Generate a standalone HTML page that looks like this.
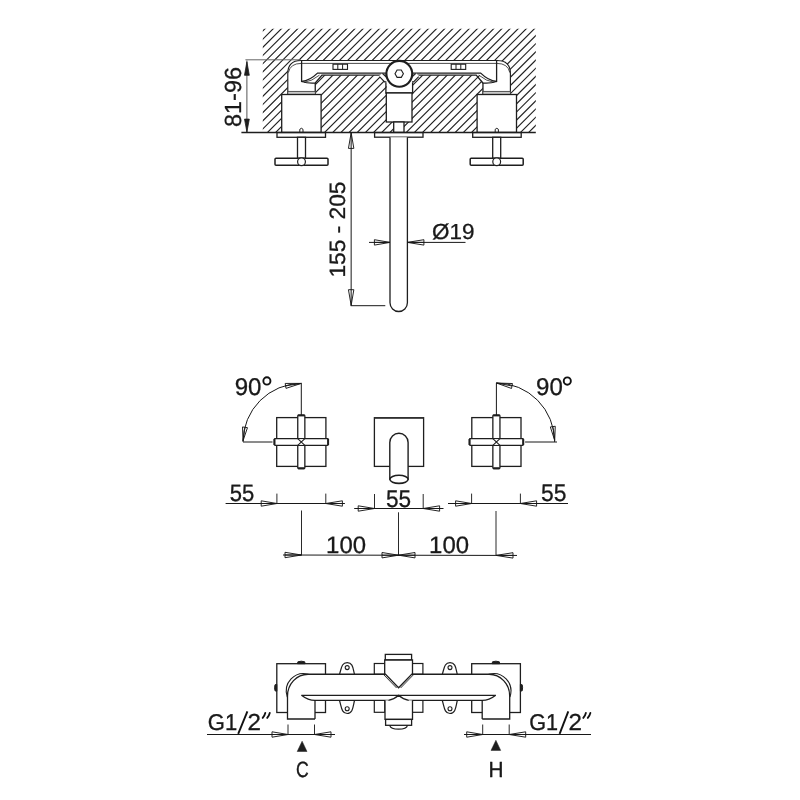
<!DOCTYPE html>
<html><head><meta charset="utf-8"><style>
html,body{margin:0;padding:0;background:#fff;width:800px;height:800px;overflow:hidden}
svg{display:block;will-change:transform}
text{font-family:"Liberation Sans",sans-serif;fill:#1a1a1a;text-rendering:geometricPrecision}
</style></head><body>
<svg width="800" height="800" viewBox="0 0 800 800">
<rect width="800" height="800" fill="#fff"/>
<clipPath id="hc"><rect x="262.8" y="28.7" width="272.99999999999994" height="103.8"/></clipPath>
<path clip-path="url(#hc)" d="M139.97,137.50L253.77,23.70M148.14,137.50L261.94,23.70M156.30,137.50L270.10,23.70M164.46,137.50L278.26,23.70M172.63,137.50L286.43,23.70M180.79,137.50L294.59,23.70M188.95,137.50L302.75,23.70M197.12,137.50L310.92,23.70M205.28,137.50L319.08,23.70M213.44,137.50L327.24,23.70M221.60,137.50L335.40,23.70M229.77,137.50L343.57,23.70M237.93,137.50L351.73,23.70M246.09,137.50L359.89,23.70M254.26,137.50L368.06,23.70M262.42,137.50L376.22,23.70M270.58,137.50L384.38,23.70M278.75,137.50L392.55,23.70M286.91,137.50L400.71,23.70M295.07,137.50L408.87,23.70M303.23,137.50L417.03,23.70M311.40,137.50L425.20,23.70M319.56,137.50L433.36,23.70M327.72,137.50L441.52,23.70M335.89,137.50L449.69,23.70M344.05,137.50L457.85,23.70M352.21,137.50L466.01,23.70M360.38,137.50L474.18,23.70M368.54,137.50L482.34,23.70M376.70,137.50L490.50,23.70M384.86,137.50L498.66,23.70M393.03,137.50L506.83,23.70M401.19,137.50L514.99,23.70M409.35,137.50L523.15,23.70M417.52,137.50L531.32,23.70M425.68,137.50L539.48,23.70M433.84,137.50L547.64,23.70M442.00,137.50L555.80,23.70M450.17,137.50L563.97,23.70M458.33,137.50L572.13,23.70M466.49,137.50L580.29,23.70M474.66,137.50L588.46,23.70M482.82,137.50L596.62,23.70M490.98,137.50L604.78,23.70M499.15,137.50L612.95,23.70M507.31,137.50L621.11,23.70M515.47,137.50L629.27,23.70M523.63,137.50L637.43,23.70M531.80,137.50L645.60,23.70" stroke="#222" stroke-width="1.15" fill="none"/>
<path d="M287.8,94.5 L287.8,73.6 Q287.8,60.6 300.9,60.6 L399.1,60.6 L399.1,75.3 L318.75,75.3 L315.3,83.4 L315.3,94.5 Z" fill="#fff" stroke="none" stroke-width="0" />
<path d="M510.40000000000003,94.5 L510.40000000000003,73.6 Q510.40000000000003,60.6 497.30000000000007,60.6 L399.1,60.6 L399.1,75.3 L479.45000000000005,75.3 L482.90000000000003,83.4 L482.90000000000003,94.5 Z" fill="#fff" stroke="none" stroke-width="0" />
<path d="M287.8,94.5 L287.8,73.6 Q287.8,60.5 300.9,60.5 L497.30000000000007,60.5 Q510.40000000000003,60.5 510.40000000000003,73.6 L510.40000000000003,94.5" fill="none" stroke="#1e1e1e" stroke-width="1.15" />
<path d="M288.4,72.5 Q290.3,63.4 301.25,63.4 L496.95000000000005,63.4 Q507.90000000000003,63.4 509.80000000000007,72.5" fill="none" stroke="#1e1e1e" stroke-width="0.8" />
<path d="M301.6,60.6 L301.6,81.5 Q308,83.6 315.25,83 L322,75.1 L399.1,75.1" fill="none" stroke="#1e1e1e" stroke-width="1.3" />
<path d="M301.6,81.5 Q310,80.5 317.5,73.1 L399.1,73.1" fill="none" stroke="#1e1e1e" stroke-width="1.3" />
<path d="M304,82.4 Q312,81.2 319.5,75.1" fill="none" stroke="#1e1e1e" stroke-width="0.8" />
<path d="M315.25,83 L315.25,94.5" fill="none" stroke="#1e1e1e" stroke-width="1.3" />
<rect x="287.8" y="91.4" width="27.50" height="3.10" rx="0" fill="#c8c8c8" stroke="#444" stroke-width="0.9" />
<rect x="281.7" y="94.5" width="39.40" height="38.00" rx="0" fill="#fff" stroke="#1e1e1e" stroke-width="1.3" />
<path d="M299.79999999999995,132.3 L299.79999999999995,129.3 Q301.4,127.2 303.0,129.3 L303.0,132.3" fill="none" stroke="#1e1e1e" stroke-width="1.0" />
<rect x="333" y="64.2" width="14.50" height="5.20" rx="0" fill="#fff" stroke="#1e1e1e" stroke-width="1.1" />
<line x1="337.8" y1="64.2" x2="337.8" y2="69.4" stroke="#1e1e1e" stroke-width="1.0"/>
<line x1="342.6" y1="64.2" x2="342.6" y2="69.4" stroke="#1e1e1e" stroke-width="1.0"/>
<rect x="277" y="132.5" width="48.50" height="4.80" rx="0" fill="#fff" stroke="#1e1e1e" stroke-width="1.3" />
<rect x="297.5" y="137.3" width="8.00" height="21.00" rx="0" fill="#fff" stroke="#1e1e1e" stroke-width="1.3" />
<rect x="275.0" y="158.2" width="53.00" height="7.00" rx="1" fill="#fff" stroke="#1e1e1e" stroke-width="1.5" />
<circle cx="301.5" cy="161.7" r="3.9" fill="#fff" stroke="#1e1e1e" stroke-width="1.2"/>
<path d="M379.0,76.0 L382.3,73.2 L388.3,78.9 L385.6,82.2 Z" fill="#fff" stroke="none" stroke-width="0" />
<path d="M379.5,76.6 L384.6,81.9 L386.6,81.9 M382.3,73.3 L387.6,78.3" fill="none" stroke="#1e1e1e" stroke-width="1.1" />
<path d="M496.6,60.6 L496.6,81.5 Q490.20000000000005,83.6 482.95000000000005,83 L476.20000000000005,75.1 L399.1,75.1" fill="none" stroke="#1e1e1e" stroke-width="1.3" />
<path d="M496.6,81.5 Q488.20000000000005,80.5 480.70000000000005,73.1 L399.1,73.1" fill="none" stroke="#1e1e1e" stroke-width="1.3" />
<path d="M494.20000000000005,82.4 Q486.20000000000005,81.2 478.70000000000005,75.1" fill="none" stroke="#1e1e1e" stroke-width="0.8" />
<path d="M482.95000000000005,83 L482.95000000000005,94.5" fill="none" stroke="#1e1e1e" stroke-width="1.3" />
<rect x="482.90000000000003" y="91.4" width="27.50" height="3.10" rx="0" fill="#c8c8c8" stroke="#444" stroke-width="0.9" />
<rect x="477.1" y="94.5" width="39.40" height="38.00" rx="0" fill="#fff" stroke="#1e1e1e" stroke-width="1.3" />
<path d="M495.20000000000005,132.3 L495.20000000000005,129.3 Q496.80000000000007,127.2 498.4000000000001,129.3 L498.4000000000001,132.3" fill="none" stroke="#1e1e1e" stroke-width="1.0" />
<rect x="451.20000000000005" y="64.2" width="14.50" height="5.20" rx="0" fill="#fff" stroke="#1e1e1e" stroke-width="1.1" />
<line x1="456.00000000000006" y1="64.2" x2="456.00000000000006" y2="69.4" stroke="#1e1e1e" stroke-width="1.0"/>
<line x1="460.80000000000007" y1="64.2" x2="460.80000000000007" y2="69.4" stroke="#1e1e1e" stroke-width="1.0"/>
<rect x="472.70000000000005" y="132.5" width="48.50" height="4.80" rx="0" fill="#fff" stroke="#1e1e1e" stroke-width="1.3" />
<rect x="492.70000000000005" y="137.3" width="8.00" height="21.00" rx="0" fill="#fff" stroke="#1e1e1e" stroke-width="1.3" />
<rect x="470.20000000000005" y="158.2" width="53.00" height="7.00" rx="1" fill="#fff" stroke="#1e1e1e" stroke-width="1.5" />
<circle cx="496.70000000000005" cy="161.7" r="3.9" fill="#fff" stroke="#1e1e1e" stroke-width="1.2"/>
<path d="M419.20000000000005,76.0 L415.90000000000003,73.2 L409.90000000000003,78.9 L412.6,82.2 Z" fill="#fff" stroke="none" stroke-width="0" />
<path d="M418.70000000000005,76.6 L413.6,81.9 L411.6,81.9 M415.90000000000003,73.3 L410.6,78.3" fill="none" stroke="#1e1e1e" stroke-width="1.1" />
<rect x="386.6" y="78" width="25.4" height="44" fill="#fff"/>
<path d="M385.9,82.5 L385.9,93 L412.6,93 L412.6,82.5" fill="none" stroke="#1e1e1e" stroke-width="1.3" />
<rect x="386.3" y="93" width="25.70" height="29.00" rx="0" fill="#fff" stroke="#1e1e1e" stroke-width="1.3" />
<rect x="393.7" y="122" width="10.30" height="10.50" rx="0" fill="#fff" stroke="#1e1e1e" stroke-width="1.3" />
<circle cx="399.3" cy="73.8" r="12.9" fill="#fff" stroke="#1e1e1e" stroke-width="2.1"/>
<polygon points="403.40,73.70 401.30,77.34 397.10,77.34 395.00,73.70 397.10,70.06 401.30,70.06" fill="#fff" stroke="#1e1e1e" stroke-width="1.1"/>
<rect x="374.6" y="132.5" width="48.40" height="4.70" rx="0" fill="#fff" stroke="#1e1e1e" stroke-width="1.3" />
<path d="M390,137.2 L390,302.8 A8.7,8.7 0 0 0 407.4,302.8 L407.4,137.2" fill="#fff" stroke="#1e1e1e" stroke-width="1.3" />
<line x1="241.4" y1="132.5" x2="535.8" y2="132.5" stroke="#1e1e1e" stroke-width="1.5"/>
<line x1="245.4" y1="59.8" x2="300.9" y2="59.8" stroke="#666" stroke-width="1.0"/>
<line x1="246.9" y1="60.5" x2="246.9" y2="132" stroke="#555" stroke-width="1.0"/>
<path d="M244.5,75.3 L246.9,61.8 L249.3,75.3 Z" fill="#1e1e1e" stroke="#1e1e1e" stroke-width="0.8" />
<path d="M244.5,119.1 L246.9,132 L249.3,119.1 Z" fill="#1e1e1e" stroke="#1e1e1e" stroke-width="0.8" />
<text x="0" y="0" font-size="1" transform="translate(240.952,126.917) rotate(-90) scale(23.3988,23.3048)" stroke="#111" stroke-width="0.0128">81-96</text>
<line x1="351.15" y1="133" x2="351.15" y2="305.7" stroke="#181818" stroke-width="1.0"/>
<line x1="350.65" y1="305.7" x2="385.3" y2="305.7" stroke="#181818" stroke-width="1.0"/>
<path d="M348.45,148.4L351.15,132.8L353.84999999999997,148.4Z" fill="none" stroke="#181818" stroke-width="0.95" />
<path d="M348.45,289.7L351.15,305.3L353.84999999999997,289.7Z" fill="none" stroke="#181818" stroke-width="0.95" />
<text x="0" y="0" font-size="1" transform="translate(345.123,277.592) rotate(-90) scale(22.7393,22.1749)" stroke="#111" stroke-width="0.0134">155 - 205</text>
<line x1="369" y1="242.4" x2="390" y2="242.4" stroke="#181818" stroke-width="1.0"/>
<line x1="407.4" y1="242.4" x2="465.5" y2="242.4" stroke="#181818" stroke-width="1.0"/>
<path d="M374.4,239.70000000000002L390,242.4L374.4,245.1Z M374.4,242.4L390,242.4" fill="none" stroke="#181818" stroke-width="0.95" />
<path d="M423.9,239.70000000000002L407.4,242.4L423.9,245.1Z M423.9,242.4L407.4,242.4" fill="none" stroke="#181818" stroke-width="0.95" />
<text x="0" y="0" font-size="1" transform="translate(432.002,238.967) scale(22.4544,21.7743)" stroke="#111" stroke-width="0.0136">Ø19</text>
<rect x="276.7" y="417.6" width="49.20" height="48.80" rx="0" fill="#fff" stroke="#1e1e1e" stroke-width="1.3" />
<rect x="297.75" y="415.2" width="7.10" height="53.30" rx="0.8" fill="#fff" stroke="#1e1e1e" stroke-width="1.3" />
<rect x="274.3" y="438.65" width="54.00" height="6.70" rx="0.8" fill="#fff" stroke="#1e1e1e" stroke-width="1.3" />
<line x1="298.1" y1="415.4" x2="304.5" y2="415.4" stroke="#1e1e1e" stroke-width="2.0"/>
<line x1="298.1" y1="468.3" x2="304.5" y2="468.3" stroke="#1e1e1e" stroke-width="2.0"/>
<line x1="274.5" y1="439.0" x2="274.5" y2="445.0" stroke="#1e1e1e" stroke-width="2.0"/>
<line x1="328.1" y1="439.0" x2="328.1" y2="445.0" stroke="#1e1e1e" stroke-width="2.0"/>
<rect x="298.40000000000003" y="439.3" width="5.8" height="5.4" fill="#fff"/>
<path d="M297.75,438.65 L304.85,445.35 M304.85,438.65 L297.75,445.35" fill="none" stroke="#1e1e1e" stroke-width="1.1" />
<line x1="301.3" y1="383.4" x2="301.3" y2="415" stroke="#181818" stroke-width="1.0"/>
<line x1="243" y1="442" x2="272.5" y2="442" stroke="#181818" stroke-width="1.0"/>
<path d="M301.3,383.4 A58.4,58.6 0 0 0 243.0,442" fill="none" stroke="#181818" stroke-width="1.0" />
<path d="M285.99,388.37 L301.3,383.4 L285.21,383.43 Z M285.6,385.9 L301.3,383.4" fill="none" stroke="#181818" stroke-width="0.95" />
<path d="M242.53,426.93 L243.0,440.8 L247.47,427.67 Z M245.0,427.3 L243.0,440.8" fill="none" stroke="#181818" stroke-width="0.95" />
<text x="0" y="0" font-size="1" transform="translate(234.672,394.913) scale(24.0655,24.2229)" stroke="#111" stroke-width="0.0124">90</text>
<ellipse cx="266.9" cy="380.9" rx="3.55" ry="3.7" fill="none" stroke="#111" stroke-width="1.9"/>
<rect x="471.79999999999995" y="417.6" width="49.20" height="48.80" rx="0" fill="#fff" stroke="#1e1e1e" stroke-width="1.3" />
<rect x="492.84999999999997" y="415.2" width="7.10" height="53.30" rx="0.8" fill="#fff" stroke="#1e1e1e" stroke-width="1.3" />
<rect x="469.4" y="438.65" width="54.00" height="6.70" rx="0.8" fill="#fff" stroke="#1e1e1e" stroke-width="1.3" />
<line x1="493.2" y1="415.4" x2="499.59999999999997" y2="415.4" stroke="#1e1e1e" stroke-width="2.0"/>
<line x1="493.2" y1="468.3" x2="499.59999999999997" y2="468.3" stroke="#1e1e1e" stroke-width="2.0"/>
<line x1="469.59999999999997" y1="439.0" x2="469.59999999999997" y2="445.0" stroke="#1e1e1e" stroke-width="2.0"/>
<line x1="523.1999999999999" y1="439.0" x2="523.1999999999999" y2="445.0" stroke="#1e1e1e" stroke-width="2.0"/>
<rect x="493.5" y="439.3" width="5.8" height="5.4" fill="#fff"/>
<path d="M492.84999999999997,438.65 L499.95,445.35 M499.95,438.65 L492.84999999999997,445.35" fill="none" stroke="#1e1e1e" stroke-width="1.1" />
<line x1="496.4" y1="383.0" x2="496.4" y2="415" stroke="#181818" stroke-width="1.0"/>
<line x1="525.1" y1="442" x2="557" y2="442" stroke="#181818" stroke-width="1.0"/>
<path d="M496.4,383.0 A58.3,59 0 0 1 554.6999999999999,442" fill="none" stroke="#181818" stroke-width="1.0" />
<path d="M512.47,383.54 L496.4,383.0 L511.53,388.46 Z M512.0,386.0 L496.4,383.0" fill="none" stroke="#181818" stroke-width="0.95" />
<path d="M550.32,426.94 L554.7,440.3 L555.28,426.26 Z M552.8,426.6 L554.7,440.3" fill="none" stroke="#181818" stroke-width="0.95" />
<text x="0" y="0" font-size="1" transform="translate(536.022,394.913) scale(24.0655,24.2229)" stroke="#111" stroke-width="0.0124">90</text>
<ellipse cx="567.3" cy="381.1" rx="3.55" ry="3.7" fill="none" stroke="#111" stroke-width="1.9"/>
<rect x="374.4" y="417.7" width="49.20" height="48.70" rx="0" fill="#fff" stroke="#1e1e1e" stroke-width="1.3" />
<line x1="374.4" y1="418" x2="423.6" y2="418" stroke="#333" stroke-width="1.6"/>
<path d="M389.8,442.4 A9.15,9.15 0 0 1 408.1,442.4 L408.1,479.3 L389.8,479.3 Z" fill="#fff" stroke="#1e1e1e" stroke-width="1.4" />
<ellipse cx="399" cy="479.3" rx="9.1" ry="4.1" fill="#fff" stroke="#1e1e1e" stroke-width="1.6"/>
<line x1="225.6" y1="503.5" x2="344.9" y2="503.5" stroke="#181818" stroke-width="1.0"/>
<line x1="276.9" y1="493.6" x2="276.9" y2="503.5" stroke="#2a2a2a" stroke-width="1.0"/>
<line x1="325.8" y1="493.6" x2="325.8" y2="503.5" stroke="#2a2a2a" stroke-width="1.0"/>
<path d="M261.2,500.8L276.9,503.5L261.2,506.2Z M261.2,503.5L276.9,503.5" fill="none" stroke="#181818" stroke-width="0.95" />
<path d="M342.40000000000003,500.8L325.8,503.5L342.40000000000003,506.2Z M342.40000000000003,503.5L325.8,503.5" fill="none" stroke="#181818" stroke-width="0.95" />
<text x="0" y="0" font-size="1" transform="translate(229.768,500.570) scale(22.0330,23.5040)" stroke="#111" stroke-width="0.0132">55</text>
<line x1="354.2" y1="508.5" x2="443.5" y2="508.5" stroke="#181818" stroke-width="1.0"/>
<line x1="374.5" y1="494" x2="374.5" y2="508.5" stroke="#2a2a2a" stroke-width="1.0"/>
<line x1="423.2" y1="494" x2="423.2" y2="508.5" stroke="#2a2a2a" stroke-width="1.0"/>
<path d="M358.2,505.8L374.5,508.5L358.2,511.2Z M358.2,508.5L374.5,508.5" fill="none" stroke="#181818" stroke-width="0.95" />
<path d="M439.59999999999997,505.8L423.2,508.5L439.59999999999997,511.2Z M439.59999999999997,508.5L423.2,508.5" fill="none" stroke="#181818" stroke-width="0.95" />
<text x="0" y="0" font-size="1" transform="translate(385.996,506.516) scale(22.5668,24.0056)" stroke="#111" stroke-width="0.0129">55</text>
<line x1="448" y1="503.5" x2="568" y2="503.5" stroke="#181818" stroke-width="1.0"/>
<line x1="471.6" y1="493.6" x2="471.6" y2="503.5" stroke="#2a2a2a" stroke-width="1.0"/>
<line x1="520.4" y1="493.6" x2="520.4" y2="503.5" stroke="#2a2a2a" stroke-width="1.0"/>
<path d="M455.6,500.8L471.6,503.5L455.6,506.2Z M455.6,503.5L471.6,503.5" fill="none" stroke="#181818" stroke-width="0.95" />
<path d="M536.6,500.8L520.4,503.5L536.6,506.2Z M536.6,503.5L520.4,503.5" fill="none" stroke="#181818" stroke-width="0.95" />
<text x="0" y="0" font-size="1" transform="translate(541.037,500.516) scale(22.8095,24.0056)" stroke="#111" stroke-width="0.0128">55</text>
<line x1="283" y1="555.0" x2="517" y2="555.45" stroke="#181818" stroke-width="1.0"/>
<line x1="301.5" y1="510.5" x2="301.5" y2="555.0" stroke="#2a2a2a" stroke-width="1.0"/>
<line x1="398.5" y1="512.3" x2="398.5" y2="555.2" stroke="#2a2a2a" stroke-width="1.0"/>
<line x1="496" y1="511" x2="496" y2="555.4" stroke="#2a2a2a" stroke-width="1.0"/>
<path d="M285.0,552.3L301.5,555.0L285.0,557.7Z M285.0,555.0L301.5,555.0" fill="none" stroke="#181818" stroke-width="0.95" />
<path d="M382.0,552.5L398.5,555.2L382.0,557.9000000000001Z M382.0,555.2L398.5,555.2" fill="none" stroke="#181818" stroke-width="0.95" />
<path d="M415.0,552.5L398.5,555.2L415.0,557.9000000000001Z M415.0,555.2L398.5,555.2" fill="none" stroke="#181818" stroke-width="0.95" />
<path d="M513,552.6999999999999L496,555.4L513,558.1Z M513,555.4L496,555.4" fill="none" stroke="#181818" stroke-width="0.95" />
<text x="0" y="0" font-size="1" transform="translate(326.076,552.868) scale(23.9502,23.7992)" stroke="#111" stroke-width="0.0126">100</text>
<text x="0" y="0" font-size="1" transform="translate(429.076,553.168) scale(23.9502,23.7286)" stroke="#111" stroke-width="0.0126">100</text>
<rect x="276.8" y="663.7" width="48.70" height="48.80" rx="0" fill="#fff" stroke="#1e1e1e" stroke-width="1.3" />
<path d="M297.5,663.7 L297.90000000000003,661.8 Q301.3,660.6 304.7,661.8 L305.1,663.7 Z" fill="#1e1e1e" stroke="#1e1e1e" stroke-width="1.0" />
<path d="M276.8,684.4 L275,684.8 Q274.2,687.7 275,690.8 L276.8,691.2 Z" fill="#1e1e1e" stroke="#1e1e1e" stroke-width="1.0" />
<path d="M339.5,674.35 C341.5,668 341.5,662.7 347.2,662.7 C352.9,662.7 352.9,668 354.5,674.35" fill="#fff" stroke="#1e1e1e" stroke-width="1.2" />
<circle cx="347.2" cy="667.6" r="2.0" fill="#fff" stroke="#1e1e1e" stroke-width="1.1"/>
<path d="M339.5,700.5 C341.5,707 341.5,713.5 347.2,713.5 C352.9,713.5 352.9,707 354.5,700.5" fill="#fff" stroke="#1e1e1e" stroke-width="1.2" />
<circle cx="347.2" cy="708.7" r="2.0" fill="#fff" stroke="#1e1e1e" stroke-width="1.1"/>
<rect x="374.3" y="663.5" width="10.50" height="10.80" rx="0" fill="#fff" stroke="#1e1e1e" stroke-width="1.2" />
<rect x="374.3" y="700.4" width="10.50" height="11.90" rx="0" fill="#fff" stroke="#1e1e1e" stroke-width="1.2" />
<rect x="471.70000000000005" y="663.7" width="48.70" height="48.80" rx="0" fill="#fff" stroke="#1e1e1e" stroke-width="1.3" />
<path d="M492.1,663.7 L492.50000000000006,661.8 Q495.90000000000003,660.6 499.3,661.8 L499.70000000000005,663.7 Z" fill="#1e1e1e" stroke="#1e1e1e" stroke-width="1.0" />
<path d="M520.4000000000001,684.4 L522.2,684.8 Q523.0,687.7 522.2,690.8 L520.4000000000001,691.2 Z" fill="#1e1e1e" stroke="#1e1e1e" stroke-width="1.0" />
<path d="M442.30000000000007,674.35 C444.30000000000007,668 444.30000000000007,662.7 450.00000000000006,662.7 C455.70000000000005,662.7 455.70000000000005,668 457.30000000000007,674.35" fill="#fff" stroke="#1e1e1e" stroke-width="1.2" />
<circle cx="450.00000000000006" cy="667.6" r="2.0" fill="#fff" stroke="#1e1e1e" stroke-width="1.1"/>
<path d="M442.30000000000007,700.5 C444.30000000000007,707 444.30000000000007,713.5 450.00000000000006,713.5 C455.70000000000005,713.5 455.70000000000005,707 457.30000000000007,700.5" fill="#fff" stroke="#1e1e1e" stroke-width="1.2" />
<circle cx="450.00000000000006" cy="708.7" r="2.0" fill="#fff" stroke="#1e1e1e" stroke-width="1.1"/>
<rect x="412.40000000000003" y="663.5" width="10.50" height="10.80" rx="0" fill="#fff" stroke="#1e1e1e" stroke-width="1.2" />
<rect x="412.40000000000003" y="700.4" width="10.50" height="11.90" rx="0" fill="#fff" stroke="#1e1e1e" stroke-width="1.2" />
<path d="M287.5,719 L287.5,695 Q287.5,674.3 308,674.3 L398.6,674.3 L398.6,700.4 L312,700.4 Q315,701 315,703 L315,719 Z" fill="#fff" stroke="none" stroke-width="0" />
<path d="M315,719 L287.5,719 L287.5,696 C287.5,684 296.7,674.25 308,674.25 L398.6,674.25" fill="none" stroke="#1e1e1e" stroke-width="1.3" />
<path d="M287.3,697 C282.6,683 295,670.4 308.5,674.25" fill="none" stroke="#1e1e1e" stroke-width="1.1" />
<path d="M301.5,695.3 L398.6,695.3" fill="none" stroke="#1e1e1e" stroke-width="1.3" />
<path d="M301.5,695.3 Q308,700.4 315,700.4 L388.4,700.4" fill="none" stroke="#1e1e1e" stroke-width="1.3" />
<path d="M315,700.4 L315,719" fill="none" stroke="#1e1e1e" stroke-width="1.3" />
<path d="M509.70000000000005,719 L509.70000000000005,695 Q509.70000000000005,674.3 489.20000000000005,674.3 L398.6,674.3 L398.6,700.4 L485.20000000000005,700.4 Q482.20000000000005,701 482.20000000000005,703 L482.20000000000005,719 Z" fill="#fff" stroke="none" stroke-width="0" />
<path d="M482.20000000000005,719 L509.70000000000005,719 L509.70000000000005,696 C509.70000000000005,684 500.50000000000006,674.25 489.20000000000005,674.25 L398.6,674.25" fill="none" stroke="#1e1e1e" stroke-width="1.3" />
<path d="M509.90000000000003,697 C514.6,683 502.20000000000005,670.4 488.70000000000005,674.25" fill="none" stroke="#1e1e1e" stroke-width="1.1" />
<path d="M495.70000000000005,695.3 L398.6,695.3" fill="none" stroke="#1e1e1e" stroke-width="1.3" />
<path d="M495.70000000000005,695.3 Q489.20000000000005,700.4 482.20000000000005,700.4 L408.80000000000007,700.4" fill="none" stroke="#1e1e1e" stroke-width="1.3" />
<path d="M482.20000000000005,700.4 L482.20000000000005,719" fill="none" stroke="#1e1e1e" stroke-width="1.3" />
<rect x="385.3" y="654.4" width="26.30" height="5.60" rx="0" fill="#fff" stroke="#1e1e1e" stroke-width="1.3" />
<path d="M384.7,660.0 L384.7,673.4 L398.6,687.8 L412.5,673.4 L412.5,660.0 Z" fill="#fff" stroke="#1e1e1e" stroke-width="1.3" />
<path d="M383.6,674.6 L396.6,688 M413.6,674.6 L400.6,688" fill="none" stroke="#1e1e1e" stroke-width="0.9" />
<path d="M385,700.3 L385,719.4 L412.5,719.4 L412.5,700.3" fill="#fff" stroke="#1e1e1e" stroke-width="1.3" />
<path d="M388.4,700.4 Q394,699.5 398.6,695.3 Q403.2,699.5 408.8,700.4" fill="none" stroke="#1e1e1e" stroke-width="1.2" />
<rect x="385.6" y="719.4" width="26.00" height="5.90" rx="0" fill="#fff" stroke="#1e1e1e" stroke-width="1.3" />
<path d="M389.7,725.3 C391,730.5 406.2,730.5 407.5,725.3" fill="none" stroke="#1e1e1e" stroke-width="1.2" />
<line x1="288" y1="724.5" x2="288" y2="734.5" stroke="#2a2a2a" stroke-width="1.0"/>
<line x1="314.5" y1="724.5" x2="314.5" y2="734.5" stroke="#2a2a2a" stroke-width="1.0"/>
<path d="M272,731.8L288,734.5L272,737.2Z M272,734.5L288,734.5" fill="none" stroke="#181818" stroke-width="0.95" />
<path d="M331.0,731.8L314.5,734.5L331.0,737.2Z M331.0,734.5L314.5,734.5" fill="none" stroke="#181818" stroke-width="0.95" />
<path d="M297.2,751.5 L302.1,741.2 L307.0,751.5 Z" fill="#1e1e1e" stroke="#1e1e1e" stroke-width="0.5" />
<line x1="482.70000000000005" y1="724.5" x2="482.70000000000005" y2="734.5" stroke="#2a2a2a" stroke-width="1.0"/>
<line x1="509.20000000000005" y1="724.5" x2="509.20000000000005" y2="734.5" stroke="#2a2a2a" stroke-width="1.0"/>
<path d="M466.70000000000005,731.8L482.70000000000005,734.5L466.70000000000005,737.2Z M466.70000000000005,734.5L482.70000000000005,734.5" fill="none" stroke="#181818" stroke-width="0.95" />
<path d="M525.7,731.8L509.20000000000005,734.5L525.7,737.2Z M525.7,734.5L509.20000000000005,734.5" fill="none" stroke="#181818" stroke-width="0.95" />
<path d="M491.0,750.4 L495.9,740.3 L500.7,750.4 Z" fill="#1e1e1e" stroke="#1e1e1e" stroke-width="0.5" />
<line x1="207" y1="734.5" x2="335" y2="734.5" stroke="#181818" stroke-width="1.0"/>
<line x1="464" y1="734.5" x2="591" y2="734.5" stroke="#181818" stroke-width="1.0"/>
<text x="0" y="0" font-size="1" transform="translate(207.792,729.677) scale(22.0267,22.8811)" stroke="#111" stroke-width="0.0134">G1</text>
<line x1="238.2" y1="733.8" x2="247.4" y2="711.3" stroke="#111" stroke-width="1.9"/>
<text x="0" y="0" font-size="1" transform="translate(247.486,729.900) scale(24.1458,23.2011)" stroke="#111" stroke-width="0.0127">2</text>
<path d="M265.3,712.9 Q264.6,715.8 262.7,717.9 M269.8,712.9 Q269.1,715.8 267.2,717.9" stroke="#111" stroke-width="1.9" stroke-linecap="round" fill="none"/>
<text x="0" y="0" font-size="1" transform="translate(529.161,729.677) scale(21.6623,22.8811)" stroke="#111" stroke-width="0.0135">G1</text>
<line x1="559.6" y1="733.8" x2="568.3" y2="711.3" stroke="#111" stroke-width="1.9"/>
<text x="0" y="0" font-size="1" transform="translate(568.386,729.900) scale(24.1458,23.2011)" stroke="#111" stroke-width="0.0127">2</text>
<path d="M585.9,712.9 Q585.2,715.8 583.3,717.9 M590.4,712.9 Q589.7,715.8 587.8,717.9" stroke="#111" stroke-width="1.9" stroke-linecap="round" fill="none"/>
<text x="0" y="0" font-size="1" transform="translate(296.002,776.985) scale(17.6851,22.0337)" stroke="#111" stroke-width="0.0151">C</text>
<text x="0" y="0" font-size="1" transform="translate(488.597,776.900) scale(20.7664,21.8027)" stroke="#111" stroke-width="0.0141">H</text>
</svg>
</body></html>
